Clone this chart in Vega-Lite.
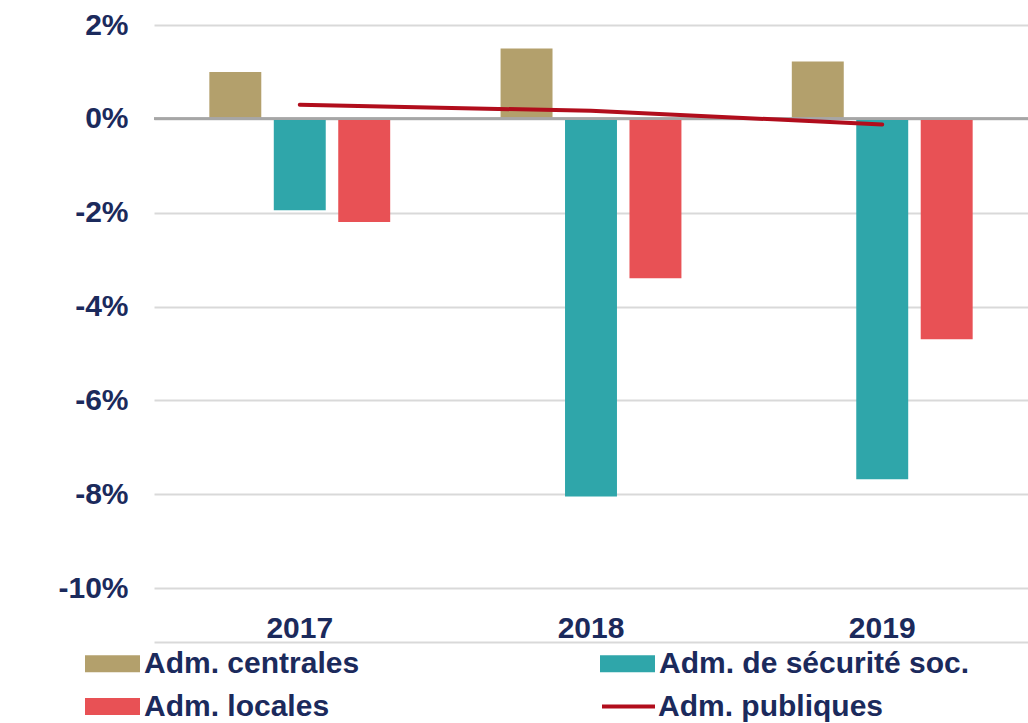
{
  "$schema": "https://vega.github.io/schema/vega-lite/v6.json",
  "width": 874,
  "height": 563,
  "autosize": {"type": "none"},
  "padding": {"left": 154, "top": 25, "right": 0, "bottom": 135},
  "background": "white",
  "config": {
    "view": {"stroke": null},
    "font": "Liberation Sans"
  },
  "datasets": {
    "bars": [
      {"year": "2017", "series": "Adm. centrales", "value": 1.0},
      {"year": "2017", "series": "Adm. de sécurité soc.", "value": -1.95},
      {"year": "2017", "series": "Adm. locales", "value": -2.2},
      {"year": "2018", "series": "Adm. centrales", "value": 1.5},
      {"year": "2018", "series": "Adm. de sécurité soc.", "value": -8.05},
      {"year": "2018", "series": "Adm. locales", "value": -3.4},
      {"year": "2019", "series": "Adm. centrales", "value": 1.22},
      {"year": "2019", "series": "Adm. de sécurité soc.", "value": -7.68},
      {"year": "2019", "series": "Adm. locales", "value": -4.7}
    ],
    "total": [
      {"year": "2017", "series": "Adm. publiques", "value": 0.3},
      {"year": "2018", "series": "Adm. publiques", "value": 0.17},
      {"year": "2019", "series": "Adm. publiques", "value": -0.12}
    ]
  },
  "resolve": {"axis": {"x": "independent"}},
  "layer": [
    {
      "data": {"name": "bars"},
      "mark": {"type": "bar"},
      "encoding": {
        "x": {
          "field": "year",
          "type": "nominal",
          "scale": {"paddingInner": 0.379, "paddingOuter": 0.19},
          "axis": {
            "title": null,
            "orient": "bottom",
            "labelAngle": 0,
            "tickSize": 0,
            "domain": false,
            "grid": false,
            "labelFontSize": 30,
            "labelFontWeight": "bold",
            "labelColor": "#1b2a5c",
            "labelPadding": 25
          }
        },
        "xOffset": {
          "field": "series",
          "type": "nominal",
          "sort": ["Adm. centrales", "Adm. de sécurité soc.", "Adm. locales"],
          "scale": {"paddingInner": 0.194, "paddingOuter": 0}
        },
        "y": {
          "field": "value",
          "type": "quantitative",
          "scale": {"domain": [-10, 2], "nice": false, "zero": false},
          "axis": {
            "title": null,
            "values": [-10, -8, -6, -4, -2, 0, 2],
            "labelExpr": "datum.value + '%'",
            "grid": true,
            "gridColor": "#d9d9d9",
            "gridWidth": 2,
            "tickSize": 0,
            "domain": false,
            "labelFontSize": 30,
            "labelFontWeight": "bold",
            "labelColor": "#1b2a5c",
            "labelPadding": 26
          }
        },
        "fill": {
          "field": "series",
          "type": "nominal",
          "scale": {
            "domain": ["Adm. centrales", "Adm. de sécurité soc.", "Adm. locales"],
            "range": ["#b3a06c", "#2fa6aa", "#e85155"]
          },
          "legend": {
            "title": null,
            "orient": "none",
            "legendX": -69,
            "legendY": 611,
            "direction": "horizontal",
            "columns": 2,
            "columnPadding": 240,
            "rowPadding": -12,
            "padding": 0,
            "symbolType": "M-1,-0.31H1V0.31H-1Z",
            "symbolSize": 3025,
            "symbolStrokeWidth": 0,
            "symbolOpacity": 1,
            "labelFontSize": 30,
            "labelFontWeight": "bold",
            "labelColor": "#1b2a5c",
            "labelOffset": 4,
            "labelLimit": 1000
          }
        }
      }
    },
    {
      "data": {"name": "bars"},
      "mark": {"type": "rule", "color": "#a6a6a6", "strokeWidth": 2},
      "encoding": {"y": {"datum": 0, "type": "quantitative"}}
    },
    {
      "data": {"name": "total"},
      "mark": {"type": "line", "strokeWidth": 4, "strokeCap": "round"},
      "encoding": {
        "x": {
          "field": "year",
          "type": "nominal",
          "axis": {
            "title": null,
            "orient": "bottom",
            "offset": 54,
            "labels": false,
            "ticks": false,
            "grid": false,
            "domain": true,
            "domainColor": "#d9d9d9",
            "domainWidth": 2
          }
        },
        "y": {"field": "value", "type": "quantitative"},
        "stroke": {
          "field": "series",
          "type": "nominal",
          "scale": {"domain": ["Adm. publiques"], "range": ["#b10d1c"]},
          "legend": {
            "title": null,
            "orient": "none",
            "legendX": 446,
            "legendY": 653,
            "padding": 0,
            "symbolType": "stroke",
            "symbolSize": 2809,
            "symbolStrokeWidth": 4,
            "labelFontSize": 30,
            "labelFontWeight": "bold",
            "labelColor": "#1b2a5c",
            "labelOffset": 1,
            "labelLimit": 1000
          }
        }
      }
    }
  ]
}
